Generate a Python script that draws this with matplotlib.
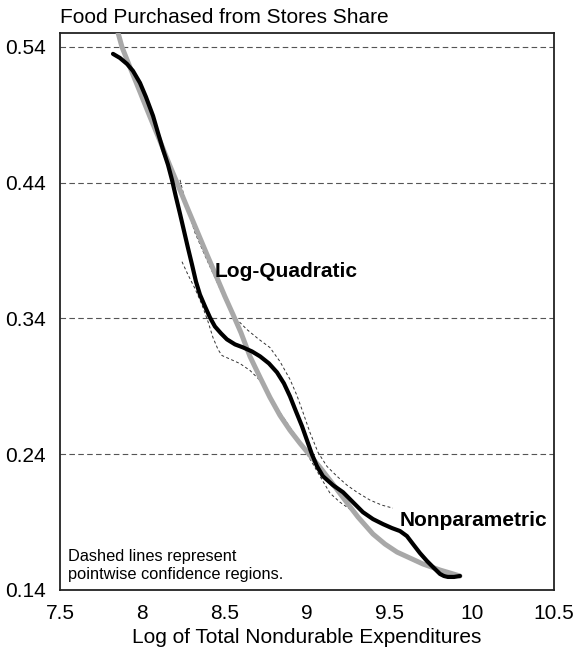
import matplotlib
matplotlib.use("Agg")
import matplotlib.pyplot as plt

plt.rcParams['font.family'] = ['Liberation Sans', 'DejaVu Sans']

# log-quadratic fit (grey)
quad_x = [7.840, 7.877, 7.925, 7.986, 8.047, 8.107, 8.168, 8.211, 8.271, 8.332,
          8.393, 8.453, 8.502, 8.551, 8.599, 8.654, 8.715, 8.775, 8.836, 8.897,
          8.958, 9.018, 9.079, 9.158, 9.231, 9.310, 9.401, 9.474, 9.547, 9.626,
          9.705, 9.808, 9.869, 9.929]
quad_y = [0.5560, 0.5398, 0.5251, 0.5068, 0.4884, 0.4708, 0.4524, 0.4399, 0.4222, 0.4046,
          0.3870, 0.3701, 0.3561, 0.3429, 0.3296, 0.3120, 0.2966, 0.2819, 0.2686, 0.2576,
          0.2480, 0.2392, 0.2304, 0.2179, 0.2062, 0.1937, 0.1812, 0.1738, 0.1679, 0.1635,
          0.1591, 0.1547, 0.1525, 0.1503]

# nonparametric estimate (black)
np_x = [7.822, 7.864, 7.907, 7.943, 7.986, 8.022, 8.065, 8.095, 8.126, 8.156,
        8.180, 8.204, 8.229, 8.253, 8.277, 8.302, 8.326, 8.350, 8.381, 8.411,
        8.441, 8.478, 8.514, 8.563, 8.611, 8.666, 8.715, 8.769, 8.818, 8.860,
        8.897, 8.933, 8.970, 9.000, 9.030, 9.061, 9.097, 9.158, 9.219, 9.279,
        9.340, 9.401, 9.462, 9.516, 9.565, 9.607, 9.644, 9.686, 9.729, 9.771,
        9.808, 9.832, 9.856, 9.893, 9.929]
np_y = [0.5349, 0.5319, 0.5275, 0.5224, 0.5135, 0.5032, 0.4893, 0.4768, 0.4643, 0.4532,
        0.4422, 0.4296, 0.4171, 0.4046, 0.3921, 0.3796, 0.3671, 0.3576, 0.3488, 0.3407,
        0.3341, 0.3290, 0.3246, 0.3209, 0.3187, 0.3157, 0.3121, 0.3069, 0.3003, 0.2922,
        0.2826, 0.2716, 0.2606, 0.2503, 0.2400, 0.2311, 0.2238, 0.2172, 0.2120, 0.2047,
        0.1973, 0.1922, 0.1885, 0.1856, 0.1834, 0.1797, 0.1738, 0.1672, 0.1613, 0.1562,
        0.1518, 0.1503, 0.1496, 0.1496, 0.1503]

# pointwise confidence bands
upper_x = [8.229, 8.259, 8.320, 8.381, 8.441, 8.502, 8.575, 8.636, 8.702, 8.775,
           8.836, 8.897, 8.939, 8.976, 9.018, 9.067, 9.121, 9.182, 9.243, 9.304,
           9.383, 9.455, 9.522]
upper_y = [0.4421, 0.4274, 0.4031, 0.3862, 0.3701, 0.3539, 0.3392, 0.3318, 0.3252, 0.3186,
           0.3083, 0.2951, 0.2833, 0.2708, 0.2561, 0.2414, 0.2311, 0.2238, 0.2172, 0.2120,
           0.2062, 0.2025, 0.2003]
lower_x = [8.241, 8.277, 8.320, 8.362, 8.399, 8.429, 8.460, 8.484, 8.538, 8.593,
           8.654, 8.715, 8.775, 8.836, 8.897, 8.958, 8.994, 9.030, 9.079, 9.140,
           9.200, 9.261, 9.322, 9.383]
lower_y = [0.3818, 0.3723, 0.3620, 0.3502, 0.3377, 0.3260, 0.3171, 0.3127, 0.3098, 0.3068,
           0.3017, 0.2944, 0.2833, 0.2708, 0.2598, 0.2488, 0.2414, 0.2341, 0.2238, 0.2113,
           0.2047, 0.1995, 0.1922, 0.1848]

yticks = [0.14, 0.24, 0.34, 0.44, 0.54]
xticks = [7.5, 8, 8.5, 9, 9.5, 10, 10.5]

fig = plt.figure(figsize=(5.75, 6.54), dpi=100)
ax = fig.add_axes([0.1043, 0.0979, 0.8591, 0.8517])

for y in yticks[1:]:
    ax.axhline(y, color='#555555', lw=0.8, ls=(0, (5, 3)), zorder=1)

ax.plot(upper_x, upper_y, color='#333333', lw=0.7, ls=(0, (3, 2.5)), zorder=2)
ax.plot(lower_x, lower_y, color='#333333', lw=0.7, ls=(0, (3, 2.5)), zorder=2)
ax.plot(quad_x, quad_y, color='#a8a8a8', lw=3.6, solid_capstyle='round',
        solid_joinstyle='round', zorder=3)
ax.plot(np_x, np_y, color='black', lw=3.0, solid_capstyle='round',
        solid_joinstyle='round', zorder=4)

ax.set_xlim(7.5, 10.5)
ax.set_ylim(0.14, 0.5503)
ax.set_xticks(xticks)
ax.set_xticklabels(['7.5', '8', '8.5', '9', '9.5', '10', '10.5'])
ax.set_yticks(yticks)
ax.set_yticklabels(['0.14', '0.24', '0.34', '0.44', '0.54'])
ax.tick_params(length=0, labelsize=15, pad=10)
for s in ax.spines.values():
    s.set_linewidth(1.3)
    s.set_color('#222222')

ax.set_xlabel('Log of Total Nondurable Expenditures', fontsize=15, labelpad=4)
fig.text(0.104, 0.974, 'Food Purchased from Stores Share', fontsize=15, va='center', ha='left')

ax.text(8.441, 0.3708, 'Log-Quadratic', fontsize=15, fontweight='bold', va='baseline', ha='left')
ax.text(9.565, 0.1870, 'Nonparametric', fontsize=15, fontweight='bold', va='baseline', ha='left')
ax.text(7.549, 0.1481, 'Dashed lines represent\npointwise confidence regions.', fontsize=11.75,
        va='baseline', ha='left', linespacing=1.25)

fig.savefig('out.png', dpi=100)
